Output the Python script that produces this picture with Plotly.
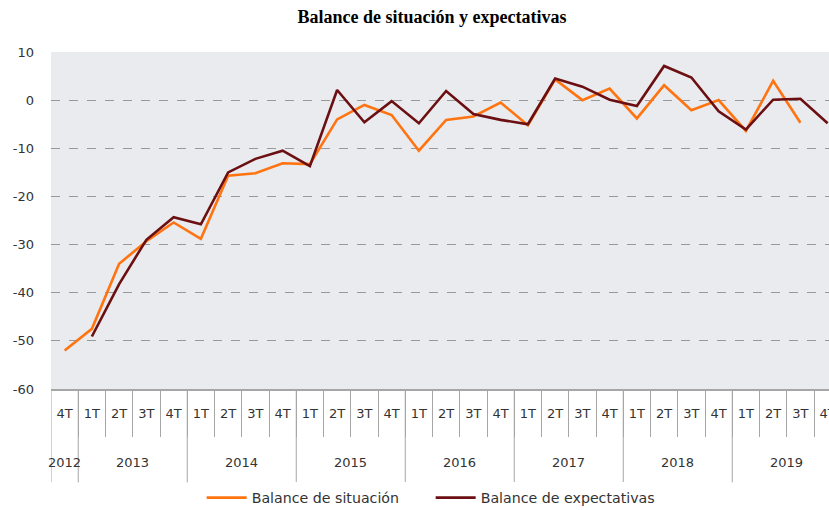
import plotly.graph_objects as go

# quarters from 4T 2012 to 4T 2019
years = ["2012"] + [y for y in ["2013", "2014", "2015", "2016", "2017", "2018", "2019"] for _ in range(4)]
quarters = ["4T"] + ["1T", "2T", "3T", "4T"] * 7

situacion = [-52.0, -47.5, -34.0, -29.3, -25.4, -28.8, -15.7, -15.2, -13.1,
             -13.3, -4.0, -1.0, -3.1, -10.5, -4.1, -3.4, -0.5,
             -5.2, 4.3, 0.0, 2.4, -3.8, 3.1, -2.1, 0.0,
             -6.4, 4.0, -4.7, None]
expectativas = [None, -49.1, -38.2, -29.0, -24.3, -25.8, -15.0, -12.2, -10.5,
                -13.7, 2.1, -4.6, -0.2, -4.8, 1.9, -2.9, -4.1,
                -5.0, 4.5, 2.8, 0.1, -1.2, 7.1, 4.7, -2.3,
                -6.1, 0.1, 0.3, -4.8]

y_ticks = [10, 0, -10, -20, -30, -40, -50, -60]

x = list(range(len(quarters)))
axis_grey = "#a6a6a6"
txt = dict(family="DejaVu Sans", size=13, color="#333333")

fig = go.Figure()
fig.add_trace(go.Scatter(x=x, y=situacion, mode="lines", name="Balance de situación",
                         line=dict(color="#ff7410", width=2.6)))
fig.add_trace(go.Scatter(x=x, y=expectativas, mode="lines", name="Balance de expectativas",
                         line=dict(color="#6b0f12", width=2.6)))

# year labels and dividers under the quarter labels
year_names = list(dict.fromkeys(years))
for yr in year_names:
    idx = [i for i, v in enumerate(years) if v == yr]
    fig.add_annotation(x=(idx[0] + idx[-1]) / 2, y=-0.217, xref="x", yref="paper",
                       text=yr, showarrow=False, yanchor="middle", font=txt)
    fig.add_shape(type="line", xref="x", yref="paper", x0=idx[0] - 0.5, x1=idx[0] - 0.5,
                  y0=0, y1=-0.277, line=dict(color=axis_grey, width=1))

fig.update_layout(
    width=829, height=510,
    margin=dict(l=51, r=0, t=52, b=121, autoexpand=False),
    paper_bgcolor="white",
    plot_bgcolor="#e9ebee",
    title=dict(text="<b>Balance de situación y expectativas</b>", x=0.521, xanchor="center",
               y=0.9667, yanchor="middle",
               font=dict(family="Liberation Serif", size=18, color="black")),
    showlegend=True,
    legend=dict(orientation="h", x=0.488, xanchor="center", y=-0.323, yanchor="middle",
                font=dict(family="DejaVu Sans", size=14.2, color="#333333"),
                itemwidth=40, entrywidth=174, tracegroupgap=0),
    font=txt,
)

fig.update_xaxes(
    range=[-0.5, 28.05], automargin=False,
    tickmode="array", tickvals=x, ticktext=quarters,
    ticks="", ticklabelstandoff=12, ticklabeloverflow="allow",
    showgrid=False, zeroline=False,
    showline=True, linecolor=axis_grey, linewidth=1.5,
    minor=dict(tickmode="array", tickvals=[i + 0.5 for i in x], ticks="outside",
               ticklen=46, tickcolor=axis_grey, tickwidth=1, showgrid=False),
    tickfont=txt,
)

fig.update_yaxes(
    range=[-60, 10], automargin=False,
    tickmode="array", tickvals=y_ticks, ticktext=[str(v) for v in y_ticks],
    showgrid=True, gridcolor="#999999", griddash="dash", gridwidth=1,
    zeroline=False, showline=False, ticks="", ticklabelstandoff=16,
    tickfont=txt,
)

# drop the default body margin so the figure fills the window exactly
fig.write_html("out.html", config={"displayModeBar": False},
               post_script="document.body.style.margin = '0';")
